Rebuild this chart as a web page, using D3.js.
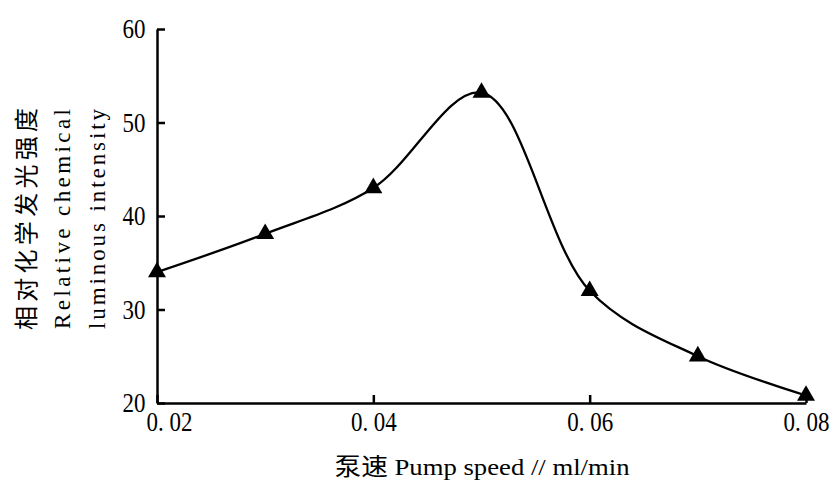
<!DOCTYPE html>
<html>
<head>
<meta charset="utf-8">
<script src="https://cdn.jsdelivr.net/npm/d3@7"></script>
<style>
  body { margin: 0; background: #fff; }
  svg { display: block; }
  .tick text {
    font-family: "Liberation Serif", serif; font-size: 28px; fill: #000;
    transform-box: fill-box; transform-origin: center; transform: scaleX(0.82);
  }
  .lab { font-family: "Liberation Serif", "Noto Sans CJK SC", serif; fill: #000; }
</style>
</head>
<body>
<div id="chart-area"><svg></svg></div>
<script>
const chartSize = { width: 833, height: 483 };
const margin = { left: 157, right: 27, top: 29, bottom: 80 };
const width = chartSize.width - margin.left - margin.right;
const height = chartSize.height - margin.top - margin.bottom;

// pump speed (ml/min) vs relative intensity
const pumpSpeed = [0.02, 0.03, 0.04, 0.05, 0.06, 0.07, 0.08];
const intensity = [34, 38.1, 43, 53.2, 32, 25, 20.8];
const xTicks = [0.02, 0.04, 0.06, 0.08];
const yTicks = [20, 30, 40, 50, 60];

const svg = d3.select("#chart-area svg")
  .attr("width", chartSize.width)
  .attr("height", chartSize.height);

const g = svg.append("g")
  .attr("transform", `translate(${margin.left},${margin.top})`);

const x = d3.scaleLinear().domain([0.02, 0.08]).range([0, width]);
const y = d3.scaleLinear().domain([20, 60]).range([height, 0]);

const xAxis = d3.axisBottom(x)
  .tickValues(xTicks)
  .tickSizeInner(-8)
  .tickSizeOuter(0)
  .tickPadding(13)
  .tickFormat(d => d3.format(".2f")(d).replace(".", ". "));

const yAxis = d3.axisLeft(y)
  .tickValues(yTicks)
  .tickSizeInner(-8)
  .tickSizeOuter(0)
  .tickPadding(9);

const gx = g.append("g")
  .attr("transform", `translate(0,${height})`)
  .call(xAxis);
const gy = g.append("g").call(yAxis);

[gx, gy].forEach(a => {
  a.selectAll("path, line").attr("stroke", "#000").attr("stroke-width", 2.5);
  a.attr("font-family", null).attr("font-size", null);
});
gx.selectAll(".tick text").attr("dy", "0.55em");
// first x label is nudged right so it doesn't collide with "20"
gx.selectAll(".tick text").filter(d => d === 0.02).attr("dx", 12);

const data = pumpSpeed.map((s, i) => ({ s, v: intensity[i] }));

const line = d3.line()
  .x(d => x(d.s))
  .y(d => y(d.v))
  .curve(d3.curveCatmullRom.alpha(0.5));

g.append("path")
  .attr("d", line(data))
  .attr("fill", "none")
  .attr("stroke", "#000")
  .attr("stroke-width", 2.3);

g.selectAll(".pt")
  .data(data)
  .join("path")
  .attr("class", "pt")
  .attr("transform", d => `translate(${x(d.s)},${y(d.v)})`)
  .attr("d", d3.symbol(d3.symbolTriangle, 140))
  .attr("fill", "#000");

// y axis title, three rotated lines
const yTitle = [
  { text: "相对化学发光强度", x: 27, size: 24, len: 222 },
  { text: "Relative chemical", x: 62, size: 23, len: 220 },
  { text: "luminous intensity", x: 97, size: 23, len: 220 }
];
svg.selectAll(".ytitle")
  .data(yTitle)
  .join("text")
  .attr("class", "lab ytitle")
  .attr("transform", d => `translate(${d.x},219) rotate(-90)`)
  .attr("text-anchor", "middle")
  .attr("dy", "0.35em")
  .attr("font-size", d => d.size)
  .attr("textLength", d => d.len)
  .attr("lengthAdjust", "spacing")
  .text(d => d.text);

svg.append("text")
  .attr("class", "lab")
  .attr("x", 482)
  .attr("y", 475)
  .attr("text-anchor", "middle")
  .attr("font-size", 24)
  .attr("textLength", 295)
  .attr("lengthAdjust", "spacingAndGlyphs")
  .text("泵速 Pump speed // ml/min");
</script>
</body>
</html>
